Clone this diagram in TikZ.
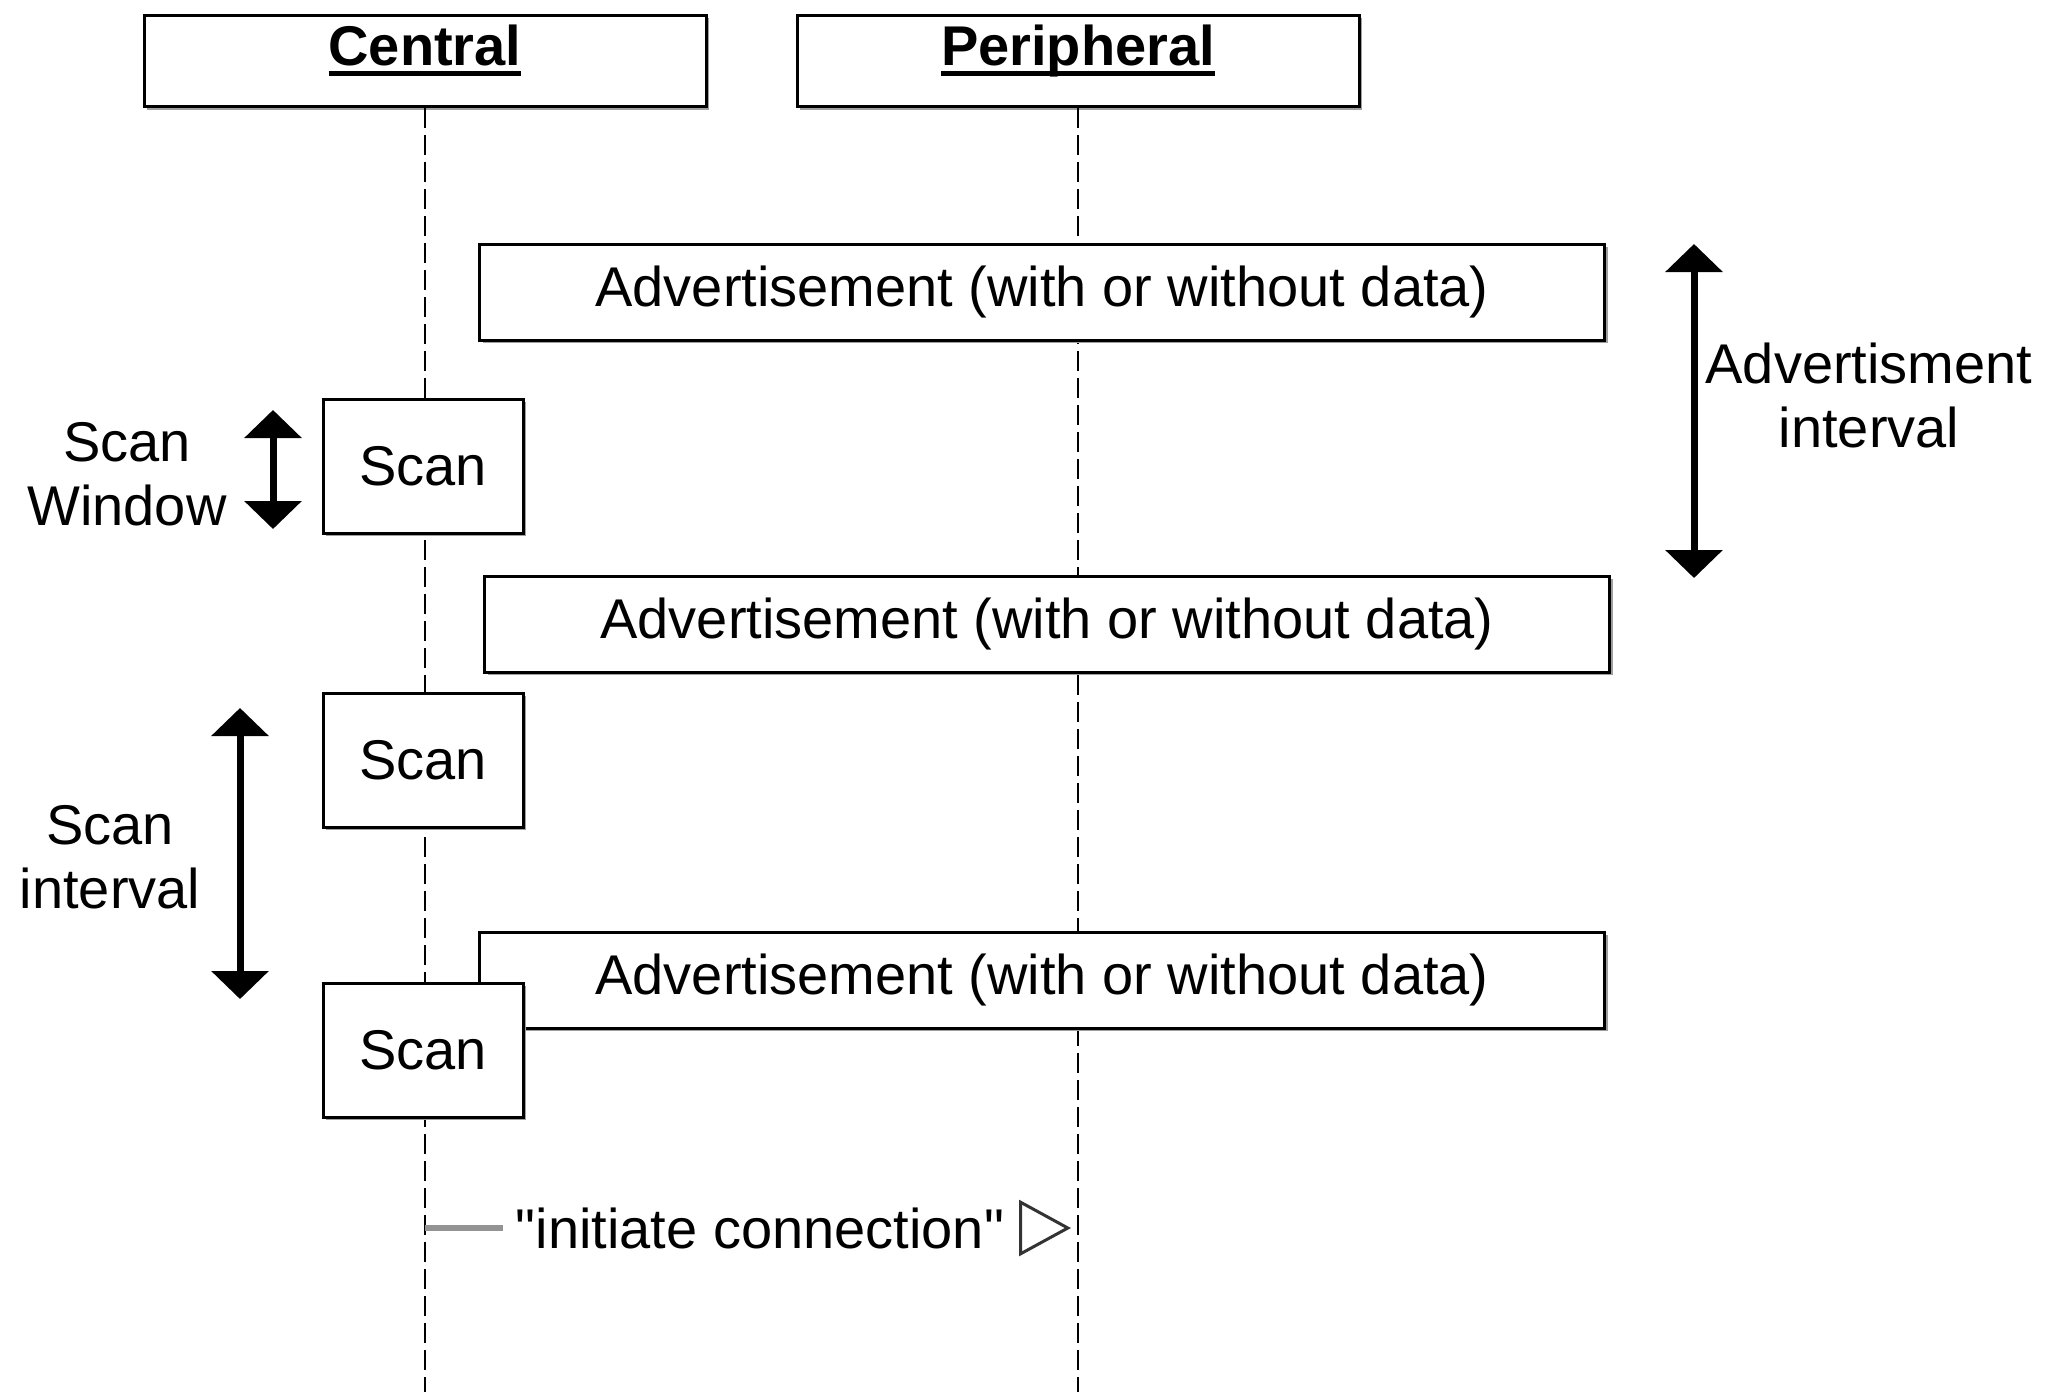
\documentclass[tikz,border=0pt]{standalone}
\usepackage{fontspec}
\setmainfont{Liberation Sans}
\newfontfamily\nolig{Liberation Sans}[Ligatures=TeXOff]
\newcommand\myuline[1]{\setbox0\hbox{#1}\rlap{\rule[-10pt]{\wd0}{4.5pt}}\box0}
\usetikzlibrary{arrows.meta,shadows}
\begin{document}
\begin{tikzpicture}[x=1pt,y=-1pt,
  every node/.style={font=\fontsize{56}{64}\selectfont},
  box/.style={draw=black,line width=3pt,fill=white,inner sep=0pt,
    drop shadow={shadow xshift=3pt,shadow yshift=-3pt,fill=gray!75,opacity=1}},
  headbox/.style={box,minimum width=562pt,minimum height=91pt,text height=40pt,text depth=30pt},
  advbox/.style={box,minimum width=1125pt,minimum height=96pt},
  scanbox/.style={box,minimum width=200pt,minimum height=134pt},
  lifeline/.style={line width=2.5pt,dash pattern=on 20pt off 7pt},
  interval/.style={line width=7pt,{Triangle[length=28pt,width=56pt]}-{Triangle[length=28pt,width=56pt]}},
  lbl/.style={align=center,inner sep=0pt},
  msg/.style={line width=6pt,draw=gray!85}
]
\useasboundingbox (0,0) rectangle (2049,1397);
% lifeline ends
\coordinate (cend) at (425,1392);
\coordinate (pend) at (1078,1392);
% heads
\node[headbox] (central) at (425,61) {\myuline{\textbf{Central}}};
\node[headbox] (peripheral) at (1078,61) {\myuline{\textbf{Peripheral}}};
\draw[lifeline] (central.south) -- (cend);
\draw[lifeline] (peripheral.south) -- (pend);
% advertisements
\node[advbox] (adv1) at (1042,292) {Advertisement (with or without data)};
\node[advbox] (adv2) at (1047,624) {Advertisement (with or without data)};
\node[advbox] (adv3) at (1042,980) {Advertisement (with or without data)};
% scans
\node[scanbox] (scan1) at (423,466) {Scan};
\node[scanbox] (scan2) at (423,760) {Scan};
\node[scanbox] (scan3) at (423,1050) {Scan};
% scan window
\coordinate (sw1) at (273,410);
\coordinate (sw2) at (273,529);
\draw[interval] (sw1) -- (sw2);
\node[lbl] (swl) at (127,474) {Scan\\Window};
% scan interval
\coordinate (si1) at (240,708);
\coordinate (si2) at (240,999);
\draw[interval] (si1) -- (si2);
\node[lbl] (sil) at (110,857) {Scan\\interval};
% advertisement interval
\coordinate (ai1) at (1694,244);
\coordinate (ai2) at (1694,578);
\draw[interval] (ai1) -- (ai2);
\node[lbl] (ail) at (1869,395) {Advertisment\\interval};
% initiate connection
\coordinate (ic1) at (425,1228);
\coordinate (ic2) at (1071,1228);
\node[inner sep=0pt,minimum width=514pt,minimum height=50pt] (icl) at (760,1228) {\nolig"initiate connection"};
\draw[msg] (ic1) -- (icl.west);
\draw[msg,draw=white,-{Triangle[open,length=52pt,width=56pt,line width=3pt,color=black!80,fill=white]}] (icl.east) -- (ic2);
\end{tikzpicture}
\end{document}
